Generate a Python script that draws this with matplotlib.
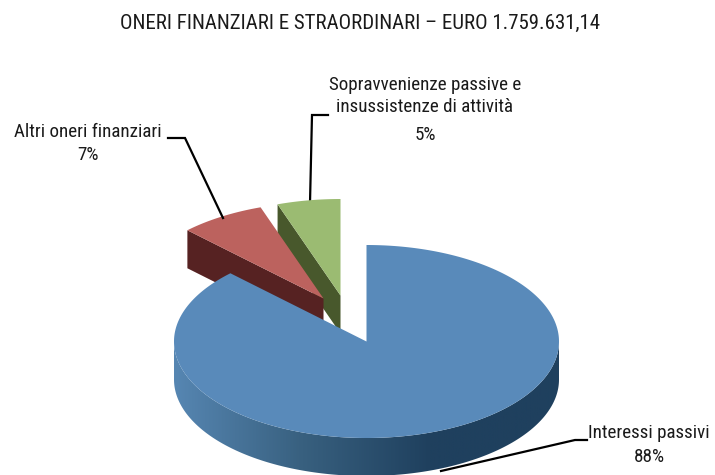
import numpy as np
import matplotlib
matplotlib.use("Agg")
import matplotlib.pyplot as plt
from matplotlib.colors import LinearSegmentedColormap
from matplotlib.patches import Polygon

title = "ONERI FINANZIARI E STRAORDINARI – EURO 1.759.631,14"
categories = ["Interessi passivi", "Altri oneri finanziari", "Sopravvenienze passive e\ninsussistenze di attività"]
values = [87.5, 7.2, 5.3]
pct_labels = ["88%", "7%", "5%"]

top_colors = ["#598ABA", "#BC625E", "#9BBB72"]
side_colors = ["#1F405E", "#562222", "#48582C"]

plt.rcParams['font.family'] = ['Roboto Condensed', 'PT Sans Narrow', 'DejaVu Sans']
TEXT = "#1a1a1a"

RX, RY, DEPTH = 192.5, 96.5, 38
# pixel position of each wedge's apex (the two small ones are pulled out)
apex = [(366.5, 341.5), (323.5, 298.5), (340.5, 295.5)]

fig = plt.figure(figsize=(7.15, 4.75), dpi=100)
ax = fig.add_axes([0, 0, 1, 1])
ax.axis("off")


def rim(a0, a1, c):
    # angles clockwise from 12 o'clock, degrees
    t = np.radians(np.linspace(a0, a1, 300))
    return c[0] + RX * np.sin(t), c[1] - RY * np.cos(t)


edges = np.cumsum([0] + values) * 360 / sum(values)

# small wedges first: they sit behind the big one
for i in [2, 1]:
    a0, a1 = edges[i], edges[i + 1]
    c = apex[i]
    x, y = rim(a0, a1, c)
    # cut face on the left side
    ax.fill([c[0], x[0], x[0], c[0]], [c[1], y[0], y[0] + DEPTH, c[1] + DEPTH],
            color=side_colors[i], lw=0, zorder=2 + (i == 1))
    ax.fill(np.r_[c[0], x], np.r_[c[1], y], color=top_colors[i], lw=0, zorder=2.5 + (i == 1))

# big wedge: side wall is a left to right gradient clipped to the wall shape
c = apex[0]
shade = LinearSegmentedColormap.from_list("shade", ["#5686B2", "#38607F", "#1F405E", "#1F405E"])
x, y = rim(90, 270, c)
wall = Polygon(np.c_[np.r_[x, x[::-1]], np.r_[y, y[::-1] + DEPTH]], closed=True, fc="none", ec="none", transform=ax.transData)
ax.add_patch(wall)
im = ax.imshow(np.linspace(0, 1, 400)[None, :], cmap=shade, aspect="auto", zorder=5,
               extent=(c[0] - RX, c[0] + RX, c[1] + RY + DEPTH, c[1]))
im.set_clip_path(wall)

x, y = rim(edges[0], edges[1], c)
ax.fill(np.r_[c[0], x], np.r_[c[1], y], color=top_colors[0], lw=0, zorder=6)

ax.set_xlim(0, 715)
ax.set_ylim(475, 0)

# leader lines
ax.plot([587, 575, 441], [440, 440, 471], color="black", lw=1.6, zorder=7, solid_joinstyle="miter")
ax.plot([168, 185, 223], [138, 138, 218], color="black", lw=1.6, zorder=7, solid_joinstyle="miter")
ax.plot([328, 312, 310], [115, 115, 203], color="black", lw=1.6, zorder=1, solid_joinstyle="miter")

fs = 13.7
ax.text(360, 23, title, ha="center", va="center", fontsize=15, color=TEXT)
ax.text(649, 433, categories[0], ha="center", va="center", fontsize=fs, color=TEXT)
ax.text(649, 457, pct_labels[0], ha="center", va="center", fontsize=fs, color=TEXT)
ax.text(88, 132, categories[1], ha="center", va="center", fontsize=fs, color=TEXT)
ax.text(88, 155, pct_labels[1], ha="center", va="center", fontsize=fs, color=TEXT)
ax.text(425, 96, categories[2], ha="center", va="center", fontsize=fs, color=TEXT, linespacing=1.3)
ax.text(425, 135, pct_labels[2], ha="center", va="center", fontsize=fs, color=TEXT)

fig.savefig("out.png", dpi=100)
